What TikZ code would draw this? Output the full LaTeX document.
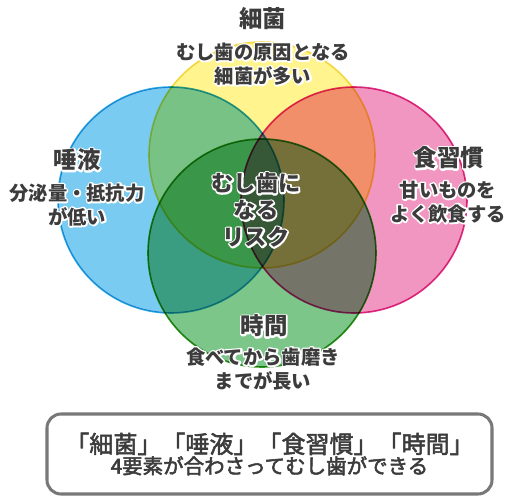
\documentclass[tikz,border=0pt]{standalone}
\usepackage{fontspec}
\setmainfont{Noto Sans CJK JP}
\usetikzlibrary{calc}

\definecolor{bluefill}{HTML}{79CBF1}
\definecolor{blueline}{HTML}{2BA7E0}
\definecolor{yellowfill}{HTML}{FFF48E}
\definecolor{yellowline}{HTML}{F3DC5A}
\definecolor{pinkfill}{HTML}{F196C1}
\definecolor{pinkline}{HTML}{E2328C}
\definecolor{greenfill}{HTML}{7CC68A}
\definecolor{greenline}{HTML}{2F9A1C}
\definecolor{inkgrey}{HTML}{3C3C3C}
\definecolor{boxgrey}{HTML}{787878}

\tikzset{
  ring/.style={line width=1.4pt},
  heading/.style={font=\bfseries\fontsize{20}{24}\selectfont, text=inkgrey},
  note/.style={font=\bfseries\fontsize{16.5}{20.4}\selectfont, text=inkgrey, align=center},
  risk/.style={font=\bfseries\fontsize{19}{23}\selectfont, text=inkgrey, align=center},
  summary/.style={draw=boxgrey, line width=2.6pt, rounded corners=0.42cm, fill=white,
    minimum width=13.35cm, minimum height=2.4cm, text=inkgrey, align=center}
}

% one line of text with a white rim round it (stroked copy under the filled one)
\newcommand{\rim}[1]{%
  \rlap{\special{pdf:code q 1 Tr 1 1 1 RG 2.8 w 1 j}#1\special{pdf:code Q}}#1}
% slightly heavier regular text
\newcommand{\thick}[1]{\special{pdf:code q 2 Tr 0.45 w 1 j}#1\special{pdf:code Q}}

\begin{document}
\begin{tikzpicture}[x=0.03cm, y=-0.03cm]
    \useasboundingbox (0,0) rectangle (518,500);

    % the four circles
    \begin{scope}[blend group=multiply]
        \filldraw[ring, fill=yellowfill, draw=yellowline] (262,155) circle (113);
        \filldraw[ring, fill=bluefill, draw=blueline] (171,200) circle (113);
        \filldraw[ring, fill=pinkfill, draw=pinkline] (354,200) circle (113);
        \filldraw[ring, fill=greenfill, draw=greenline] (262,253) circle (114);
    \end{scope}

    \node[heading] (bacteria) at (263,19) {細菌};
    \node[note] (bacterianote) at (263,64) {\rim{むし歯の原因となる}\\\rim{細菌が多い}};

    \node[heading] (saliva) at (77,160) {\rim{唾液}};
    \node[note] (salivanote) at (77,205) {\rim{分泌量・抵抗力}\\\rim{が低い}};

    \node[heading] (diet) at (449,158) {\rim{食習慣}};
    \node[note] (dietnote) at (448,202) {\rim{甘いものを}\\\rim{よく飲食する}};

    \node[risk] (center) at (256,210) {\rim{むし歯に}\\\rim{なる}\\\rim{リスク}};

    \node[heading] (time) at (264,326) {\rim{時間}};
    \node[note] (timenote) at (263,369) {\rim{食べてから歯磨き}\\\rim{までが長い}};

    \node[summary] (sum) at (269.5,454)
        {{\fontsize{20.5}{26}\selectfont \thick{「細菌」「唾液」「食習慣」「時間」}}\\
         {\fontsize{17.5}{21}\selectfont \thick{4要素が合わさってむし歯ができる}}};
\end{tikzpicture}
\end{document}
